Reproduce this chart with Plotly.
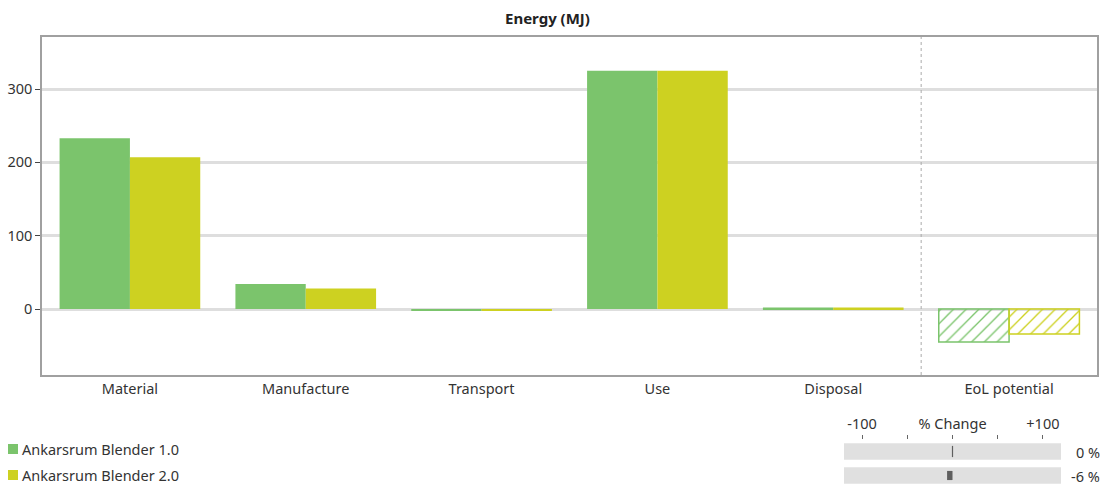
import plotly.graph_objects as go

# ---------------- data ----------------
categories = ["Material", "Manufacture", "Transport", "Use", "Disposal", "EoL potential"]
hatched_categories = ["EoL potential"]
series_names = ["Ankarsrum Blender 1.0", "Ankarsrum Blender 2.0"]
blender_1 = [233, 34, -1.5, 325, 2, -45]
blender_2 = [207, 28, -1.5, 325, 2, -34]
series_values = [blender_1, blender_2]
y_ticks = [0, 100, 200, 300]
pct_change = [0, -6]
change_ticks = [-100, -50, 0, 50, 100]
change_tick_labels = ["-100", "", "% Change", "", "+100"]

# ---------------- style ----------------
colors = ["#7bc46c", "#cdd121"]
W, H = 1107, 485
FONT = "Noto Sans"
FS = 14.5
TXT = "#333333"

def px_x(p):
    return p / W

def px_y(p):
    return 1 - p / H

fig = go.Figure()

# main grouped bars
for name, vals, col in zip(series_names, series_values, colors):
    hatched = [c in hatched_categories for c in categories]
    n = len(categories)
    fig.add_trace(go.Bar(
        x=categories, y=vals, name=name, showlegend=False,
        marker=dict(
            color=[col] * n,
            line=dict(color=[col] * n, width=[1.5 if h else 0 for h in hatched]),
            pattern=dict(
                shape=["/" if h else "" for h in hatched],
                fillmode="replace",
                fgcolor=[col] * n, bgcolor=["white"] * n, size=9, solidity=0.15,
            ),
        ),
        xaxis="x", yaxis="y",
    ))

# % change panel
change_range = [-120, 120]
fig.add_trace(go.Bar(
    y=series_names, x=[change_range[1] - change_range[0]] * len(series_names),
    base=change_range[0], orientation="h", width=0.68, offset=-0.34,
    marker=dict(color="#e0e0e0", line=dict(width=0)),
    showlegend=False, hoverinfo="skip", xaxis="x2", yaxis="y2",
))
fig.add_trace(go.Bar(
    y=series_names, x=pct_change, base=0, orientation="h",
    width=0.38, offset=-0.19,
    marker=dict(color="#5f5f5f", line=dict(width=0)),
    showlegend=False, xaxis="x2", yaxis="y2",
))
zero_rows = [n for n, v in zip(series_names, pct_change) if v == 0]
fig.add_trace(go.Scatter(
    y=zero_rows, x=[0] * len(zero_rows), mode="markers",
    marker=dict(symbol="line-ns", size=8, line=dict(color="#5f5f5f", width=1.2)),
    showlegend=False, xaxis="x2", yaxis="y2",
))

annotations = [
    dict(text="<b>Energy (MJ)</b>", x=px_x(547), y=px_y(18), xref="paper", yref="paper",
         xanchor="center", yanchor="middle", showarrow=False,
         font=dict(family=FONT, size=15, color="#222222")),
]
shapes = [
    dict(type="line", xref="x", yref="y domain", x0=4.5, x1=4.5, y0=0, y1=1,
         line=dict(color="#aaaaaa", width=1, dash="dot")),
]
legend_rows_px = [449, 475]
for i, (name, v, col) in enumerate(zip(series_names, pct_change, colors)):
    annotations.append(dict(text=f"{v} %", x=px_x(1102), y=name, xref="paper", yref="y2",
                            xanchor="right", yanchor="middle", showarrow=False,
                            font=dict(family=FONT, size=FS, color=TXT)))
    ly = legend_rows_px[i]
    annotations.append(dict(text=name, x=px_x(20), y=px_y(ly), xref="paper", yref="paper",
                            xanchor="left", yanchor="middle", showarrow=False,
                            font=dict(family=FONT, size=FS, color=TXT)))
    shapes.append(dict(type="rect", xref="paper", yref="paper",
                       x0=px_x(8), x1=px_x(18), y0=px_y(ly + 5), y1=px_y(ly - 5),
                       fillcolor=col, line=dict(width=0)))

fig.update_layout(
    width=W, height=H,
    margin=dict(l=0, r=0, t=0, b=0),
    paper_bgcolor="white", plot_bgcolor="white",
    barmode="group", bargap=0.2, bargroupgap=0,
    font=dict(family=FONT, size=FS, color=TXT),
    showlegend=False,
    xaxis=dict(domain=[px_x(42), px_x(1097)], range=[-0.5, len(categories) - 0.5],
               showline=True, mirror=True, linecolor="#a0a0a0", linewidth=1.5,
               ticks="", showgrid=False, anchor="y",
               tickfont=dict(family=FONT, size=FS, color=TXT)),
    yaxis=dict(domain=[px_y(375), px_y(37)], range=[-90, 371], tickvals=y_ticks,
               showline=True, mirror=True, linecolor="#a0a0a0", linewidth=1.5,
               ticks="outside", ticklen=5, tickcolor="#444444",
               showgrid=True, gridcolor="#dedede", gridwidth=2.5, zeroline=False,
               anchor="x", tickfont=dict(family=FONT, size=FS, color=TXT)),
    xaxis2=dict(domain=[px_x(844), px_x(1061)], range=change_range, side="top",
                tickvals=change_ticks, ticktext=change_tick_labels,
                ticks="outside", ticklen=4, tickcolor="#666666", tickwidth=1,
                showline=False, showgrid=False, zeroline=False, anchor="y2",
                tickfont=dict(family=FONT, size=FS, color=TXT)),
    yaxis2=dict(domain=[0, 45 / H], range=[len(series_names) - 0.604, -0.479],
                categoryorder="array", categoryarray=series_names,
                showticklabels=False, showgrid=False, zeroline=False, showline=False,
                ticks="", anchor="x2"),
    annotations=annotations,
    shapes=shapes,
)

fig.write_html(
    "out.html",
    config={"displayModeBar": False},
    post_script="document.body.style.margin='0';document.body.style.overflow='hidden';",
)
